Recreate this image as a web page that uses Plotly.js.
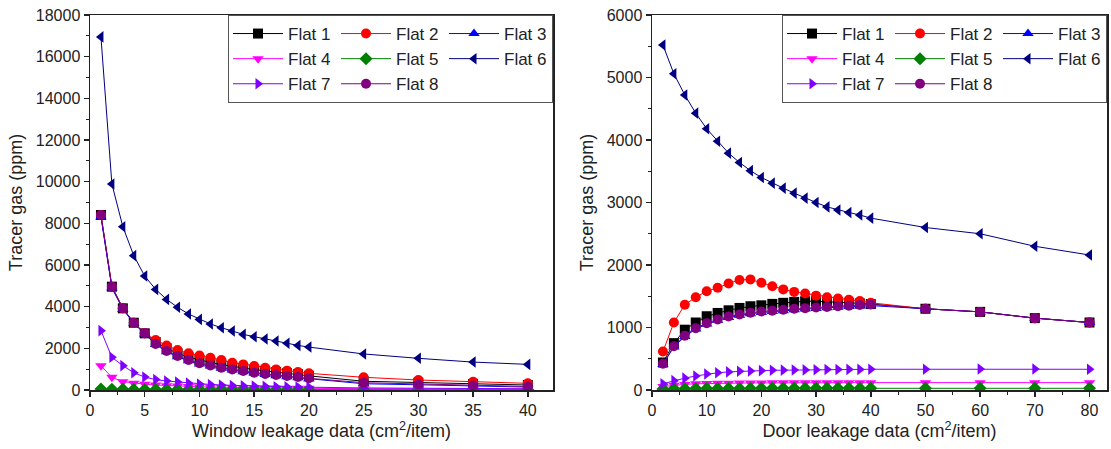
<!DOCTYPE html>
<html>
<head>
<meta charset="utf-8">
<script src="https://cdn.plot.ly/plotly-3.0.1.min.js"></script>
<style>html,body{margin:0;padding:0;background:#fff}#chart{width:1111px;height:449px}</style>
</head>
<body>
<div id="chart"></div>
<script>
// ---- data ----
const flatNames = ["Flat 1","Flat 2","Flat 3","Flat 4","Flat 5","Flat 6","Flat 7","Flat 8"];

// Window leakage (left)
const windowX = [1,2,3,4,5,6,7,8,9,10,11,12,13,14,15,16,17,18,19,20,25,30,35,40];
const winFlat1 = [8400,4960,3920,3230,2720,2300,2000,1760,1580,1440,1320,1220,1130,1050,980,920,860,810,760,680,420,350,290,240];
const winFlat2 = [8400,4960,3920,3230,2720,2400,2140,1920,1760,1660,1550,1440,1310,1230,1150,1070,990,930,860,800,610,480,400,320];
const winFlat3 = [8300,4900,3880,3200,2690,2180,1840,1600,1410,1250,1150,1040,960,880,800,740,690,640,590,530,300,250,190,140];
const winFlat4 = [1170,610,400,330,280,240,210,190,170,155,140,130,120,110,105,100,95,90,85,80,65,55,50,45];
const winFlat5 = [50,40,35,30,28,26,25,24,23,22,21,20,20,19,19,18,18,17,17,16,15,14,13,12];
const winFlat6 = [16950,9890,7840,6450,5470,4830,4350,3970,3650,3390,3170,2990,2830,2670,2560,2450,2350,2240,2140,2060,1730,1520,1340,1230];
const winFlat7 = [2850,1570,1170,830,620,500,430,380,330,290,265,240,220,205,190,175,160,150,140,130,100,85,70,60];
const winFlat8 = [8400,4960,3920,3230,2720,2210,1870,1630,1440,1280,1180,1070,990,910,830,770,720,670,620,560,350,280,220,170];

// Door leakage (right)
const doorX = [2,4,6,8,10,12,14,16,18,20,22,24,26,28,30,32,34,36,38,40,50,60,70,80];
const doorFlat1 = [440,750,965,1080,1180,1233,1275,1313,1340,1355,1378,1395,1410,1420,1420,1415,1405,1395,1385,1375,1300,1250,1150,1080];
const doorFlat2 = [615,1080,1365,1485,1580,1635,1705,1760,1770,1715,1660,1610,1570,1545,1510,1485,1465,1445,1425,1395,1300,1250,1150,1080];
const doorFlat3 = [410,690,855,975,1055,1115,1160,1195,1220,1240,1255,1270,1285,1295,1305,1315,1325,1335,1345,1350,1300,1250,1150,1080];
const doorFlat4 = [55,75,90,100,105,108,110,112,113,114,115,115,116,116,117,117,117,118,118,118,118,118,118,118];
const doorFlat5 = [15,20,22,24,25,25,26,26,26,27,27,27,27,27,27,27,27,27,27,27,27,27,27,27];
const doorFlat6 = [5520,5060,4720,4430,4180,3980,3790,3640,3510,3400,3310,3230,3150,3070,3000,2930,2880,2840,2800,2750,2600,2500,2300,2160];
const doorFlat7 = [100,150,190,225,255,275,290,300,305,310,315,318,320,322,325,327,328,330,330,332,332,335,335,332];
const doorFlat8 = [420,700,870,990,1070,1130,1175,1210,1235,1255,1270,1285,1300,1310,1320,1330,1340,1350,1360,1370,1300,1250,1150,1080];

// ---- styles ----
const colors = ["#000000","#FF0000","#0000FF","#FF00FF","#008000","#000080","#8000FF","#800080"];
const symbols = ["square","circle","triangle-up","triangle-down","diamond","triangle-left","triangle-right","circle"];
const legendColumn = [0,1,2,0,1,2,0,1]; // legend column of each flat

const winSeries = [winFlat1,winFlat2,winFlat3,winFlat4,winFlat5,winFlat6,winFlat7,winFlat8];
const doorSeries = [doorFlat1,doorFlat2,doorFlat3,doorFlat4,doorFlat5,doorFlat6,doorFlat7,doorFlat8];

const traces = [];
function addSet(xs, series, xa, ya, leg, prefix) {
  series.forEach((ys, i) => {
    traces.push({
      type: "scatter", mode: "lines+markers",
      x: xs, y: ys, name: flatNames[i],
      xaxis: xa, yaxis: ya, legend: leg,
      legendgroup: prefix + legendColumn[i],
      line: {color: colors[i], width: 1},
      marker: {color: colors[i], symbol: symbols[i], size: 10, line: {width: 0}}
    });
  });
}
addSet(windowX, winSeries, "x", "y", "legend", "w");
addSet(doorX, doorSeries, "x2", "y2", "legend2", "d");

const fontFam = "Liberation Sans, Arial, sans-serif";
const axisCommon = {
  showline: true, mirror: true, linecolor: "#222", linewidth: 1.5,
  ticks: "outside", ticklen: 5, tickwidth: 1.5, tickcolor: "#222",
  showgrid: false, zeroline: false,
  tickformat: "d",
  tickfont: {family: fontFam, size: 16, color: "#222"},
  minor: {ticks: "outside", ticklen: 3, tickwidth: 1, tickcolor: "#222"}
};
const titleFont = {family: fontFam, size: 18, color: "#222"};
const legCommon = {
  orientation: "h", xanchor: "right", yanchor: "top", y: 1,
  traceorder: "grouped",
  bgcolor: "#ffffff", bordercolor: "#555", borderwidth: 1,
  font: {family: fontFam, size: 17, color: "#222"},
  itemwidth: 50, entrywidth: 43, entrywidthmode: "pixels",
  tracegroupgap: 0
};

const layout = {
  width: 1111, height: 449,
  margin: {l: 0, r: 0, t: 15, b: 59},
  paper_bgcolor: "#ffffff", plot_bgcolor: "#ffffff",
  showlegend: true,
  xaxis: Object.assign({}, axisCommon, {
    domain: [90/1111, 553/1111], range: [0, 42.3], dtick: 5, tick0: 0,
    minor: Object.assign({}, axisCommon.minor, {dtick: 2.5}),
    anchor: "y",
    title: {text: "Window leakage data (cm<sup>2</sup>/item)", font: titleFont, standoff: 6}
  }),
  yaxis: Object.assign({}, axisCommon, {
    domain: [0, 1], range: [0, 18000], dtick: 2000, tick0: 0,
    minor: Object.assign({}, axisCommon.minor, {dtick: 1000}),
    anchor: "x",
    title: {text: "Tracer gas (ppm)", font: titleFont, standoff: 8}
  }),
  xaxis2: Object.assign({}, axisCommon, {
    domain: [652/1111, 1107/1111], range: [0, 83.2], dtick: 10, tick0: 0,
    minor: Object.assign({}, axisCommon.minor, {dtick: 5}),
    anchor: "y2",
    title: {text: "Door leakage data (cm<sup>2</sup>/item)", font: titleFont, standoff: 6}
  }),
  yaxis2: Object.assign({}, axisCommon, {
    domain: [0, 1], range: [0, 6000], dtick: 1000, tick0: 0,
    minor: Object.assign({}, axisCommon.minor, {dtick: 500}),
    anchor: "x2",
    title: {text: "Tracer gas (ppm)", font: titleFont, standoff: 8}
  }),
  legend: Object.assign({}, legCommon, {x: 553/1111}),
  legend2: Object.assign({}, legCommon, {x: 1107/1111})
};

Plotly.newPlot("chart", traces, layout, {displayModeBar: false, staticPlot: true});
</script>
</body>
</html>
